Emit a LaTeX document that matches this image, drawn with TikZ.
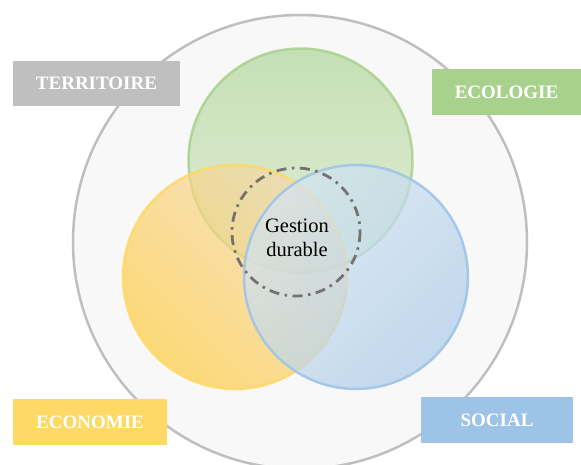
\documentclass[tikz,border=0pt]{standalone}
\usepackage{fontspec}
\setmainfont{Liberation Serif}
\definecolor{outerc}{HTML}{BFBFBF}
\definecolor{bgc}{HTML}{F8F8F8}
\definecolor{grn}{HTML}{A9D18E}
\definecolor{yel}{HTML}{FFD966}
\definecolor{blu}{HTML}{9DC3E6}
\definecolor{terc}{HTML}{BFBFBF}
\definecolor{grnT}{RGB}{177,214,154}
\definecolor{grnB}{RGB}{214,232,199}
\definecolor{yelT}{RGB}{244,216,172}
\definecolor{yelB}{RGB}{255,204,64}
\definecolor{bluT}{RGB}{212,228,244}
\definecolor{bluB}{RGB}{172,203,232}
\definecolor{dashc}{HTML}{767171}
\begin{document}
\begin{tikzpicture}[x=1pt,y=-1pt,
  lab/.style={font=\fontsize{19}{22}\selectfont\bfseries, text=white, inner sep=0pt, minimum height=46pt},
  petal/.style={line width=2.5pt, fill opacity=0.7, draw opacity=0.85},
]
\useasboundingbox (0,0) rectangle (581,464);
\clip (0,0) rectangle (581,464);
\fill[white] (0,0) rectangle (581,464);
\draw[draw=outerc, fill=bgc, line width=2.5pt] (300,242) circle (227);
\draw[petal, draw=grn, top color=grnT, bottom color=grnB] (300.5,160.5) circle (112);
\draw[petal, draw=yel, top color=yelT, bottom color=yelB, shading angle=-45] (235,277) circle (112);
\draw[petal, draw=blu, top color=bluT, bottom color=bluB, shading angle=45] (356,277) circle (112);
\draw[dashc, line width=2.8pt, dash pattern=on 10pt off 5.5pt on 2.5pt off 5.5pt] (296,232) circle (64);
\node[align=center, font=\fontsize{20.5}{24}\selectfont] (gestion) at (297,238) {Gestion\\durable};
\node[lab, fill=terc, minimum width=167pt, minimum height=45pt] (terr) at (96.5,83.5) {TERRITOIRE};
\node[lab, fill=grn, minimum width=149pt] (eco) at (506.5,92) {ECOLOGIE};
\node[lab, fill=yel, minimum width=154pt] (econ) at (90,422) {ECONOMIE};
\node[lab, fill=blu, minimum width=152pt] (soc) at (497,420) {SOCIAL};
\end{tikzpicture}
\end{document}
